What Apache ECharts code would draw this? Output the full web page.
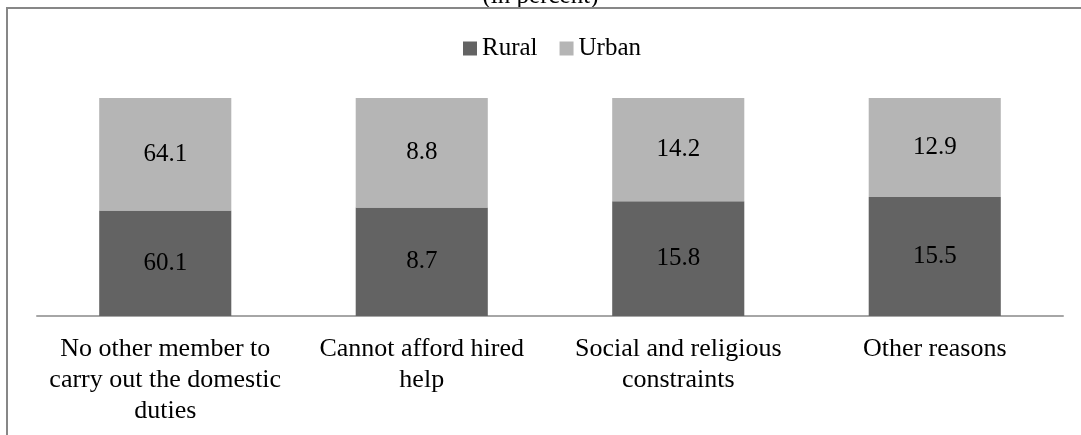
<!DOCTYPE html>
<html><head><meta charset="utf-8">
<script src="https://cdn.jsdelivr.net/npm/echarts@6/dist/echarts.min.js"></script>
<style>html,body{margin:0;padding:0;background:#fff}#c{width:1081px;height:435px}</style>
</head><body><div id="c"></div>
<script>
var categories = ["No other member to\ncarry out the domestic\nduties", "Cannot afford hired\nhelp", "Social and religious\nconstraints", "Other reasons"];
var rural = [60.1, 8.7, 15.8, 15.5];
var urban = [64.1, 8.8, 14.2, 12.9];

function share(a, b) { return a.map(function (v, i) { return { value: v / (a[i] + b[i]) * 100, raw: v }; }); }
var ruralData = share(rural, urban);
var urbanData = share(urban, rural);
var font = "'Liberation Serif','Times New Roman',serif";
var chart = echarts.init(document.getElementById('c'));
var lbl = { show: true, position: 'inside', color: '#000', fontFamily: font, fontSize: 25,
  formatter: function (p) { return p.data.raw.toFixed(1); } };
chart.setOption({
  animation: false,
  title: { text: '(in percent)', left: 'center', top: -21, textStyle: { fontFamily: font, fontSize: 25, fontWeight: 'normal', color: '#000' } },
  graphic: [{ type: 'rect', shape: { x: 7, y: 8, width: 1100, height: 500 }, style: { fill: 'none', stroke: '#878787', lineWidth: 2 }, z: 100 }],
  legend: { top: 31, left: 458, itemWidth: 14, itemHeight: 14, itemGap: 22,
    textStyle: { fontFamily: font, fontSize: 25, color: '#000' },
    data: [{ name: 'Rural', icon: 'rect' }, { name: 'Urban', icon: 'rect' }] },
  grid: { left: 37, right: 18, top: 98, bottom: 119 },
  xAxis: { type: 'category', data: categories,
    axisLine: { lineStyle: { color: '#a6a6a6', width: 2 } }, axisTick: { show: false },
    axisLabel: { fontFamily: font, fontSize: 26, color: '#000', lineHeight: 31, margin: 18, interval: 0 } },
  yAxis: { type: 'value', min: 0, max: 100, show: false, splitLine: { show: false } },
  series: [
    { name: 'Rural', type: 'bar', stack: 't', data: ruralData, barWidth: '51.5%', itemStyle: { color: '#636363' }, label: lbl },
    { name: 'Urban', type: 'bar', stack: 't', data: urbanData, barWidth: '51.5%', itemStyle: { color: '#b5b5b5' }, label: lbl }
  ]
});
</script></body></html>
